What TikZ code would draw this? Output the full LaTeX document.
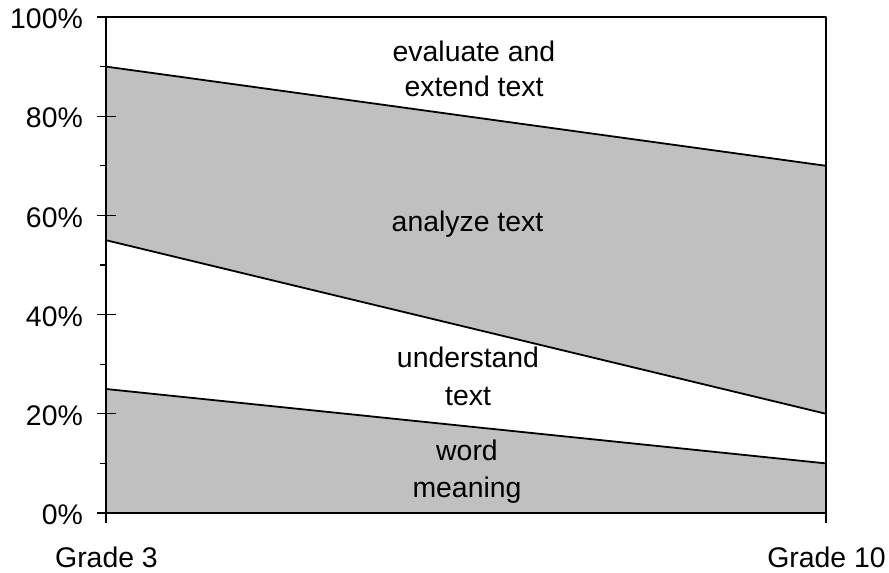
\documentclass[tikz,border=0pt]{standalone}
\usepackage{fontspec}
\setmainfont{Liberation Sans}
\begin{document}
\begin{tikzpicture}[x=1bp,y=-1bp,
  lbl/.style={font=\fontsize{28.5}{34}\selectfont, inner sep=0pt},
  band/.style={fill=bandgray, draw=none},
  edge/.style={line width=1.8bp, line join=round},
  tickmark/.style={line width=1.2bp}]
\definecolor{bandgray}{HTML}{C0C0C0}
\useasboundingbox (0,0) rectangle (889,573);
% value (percent) to vertical position
\def\ymap#1{513-4.96*#1}
% boundary points of the bands
\coordinate (l0)  at (106,{\ymap{0}});
\coordinate (l25) at (106,{\ymap{25}});
\coordinate (l55) at (106,{\ymap{55}});
\coordinate (l90) at (106,{\ymap{90}});
\coordinate (l100) at (106,{\ymap{100}});
\coordinate (r0)  at (826,{\ymap{0}});
\coordinate (r10) at (826,{\ymap{10}});
\coordinate (r20) at (826,{\ymap{20}});
\coordinate (r70) at (826,{\ymap{70}});
\coordinate (r100) at (826,{\ymap{100}});
% shaded bands
\fill[band] (l0) -- (l25) -- (r10) -- (r0) -- cycle;
\fill[band] (l55) -- (l90) -- (r70) -- (r20) -- cycle;
% band boundaries
\draw[edge] (l25) -- (r10);
\draw[edge] (l55) -- (r20);
\draw[edge] (l90) -- (r70);
% plot frame
\draw[edge] (l0) rectangle (r100);
% y-axis ticks and labels
\foreach \v in {0,20,...,100}{
  \draw[tickmark] (97,{\ymap{\v}}) -- (116,{\ymap{\v}});
  \node[lbl, anchor=east] (ylab\v) at (83,{\ymap{\v}+2}) {\v\%};
}
\foreach \v in {10,30,...,90}{
  \draw[tickmark] (100,{\ymap{\v}}) -- (106,{\ymap{\v}});
}
% x-axis ticks and labels
\draw[tickmark] (l0) -- ++(0,10);
\draw[tickmark] (r0) -- ++(0,10);
\node[lbl, anchor=base] (g3)  at (106.5,567) {Grade 3};
\node[lbl, anchor=base] (g10) at (826.5,567) {Grade 10};
% band names
\node[lbl, anchor=base] (ev1) at (474,62) {evaluate and};
\node[lbl, anchor=base] (ev2) at (474,97) {extend text};
\node[lbl, anchor=base] (an)  at (467.5,232) {analyze text};
\node[lbl, anchor=base] (un1) at (468,367) {understand};
\node[lbl, anchor=base] (un2) at (468,405) {text};
\node[lbl, anchor=base] (wm1) at (467,460) {word};
\node[lbl, anchor=base] (wm2) at (467,497) {meaning};
\end{tikzpicture}
\end{document}
